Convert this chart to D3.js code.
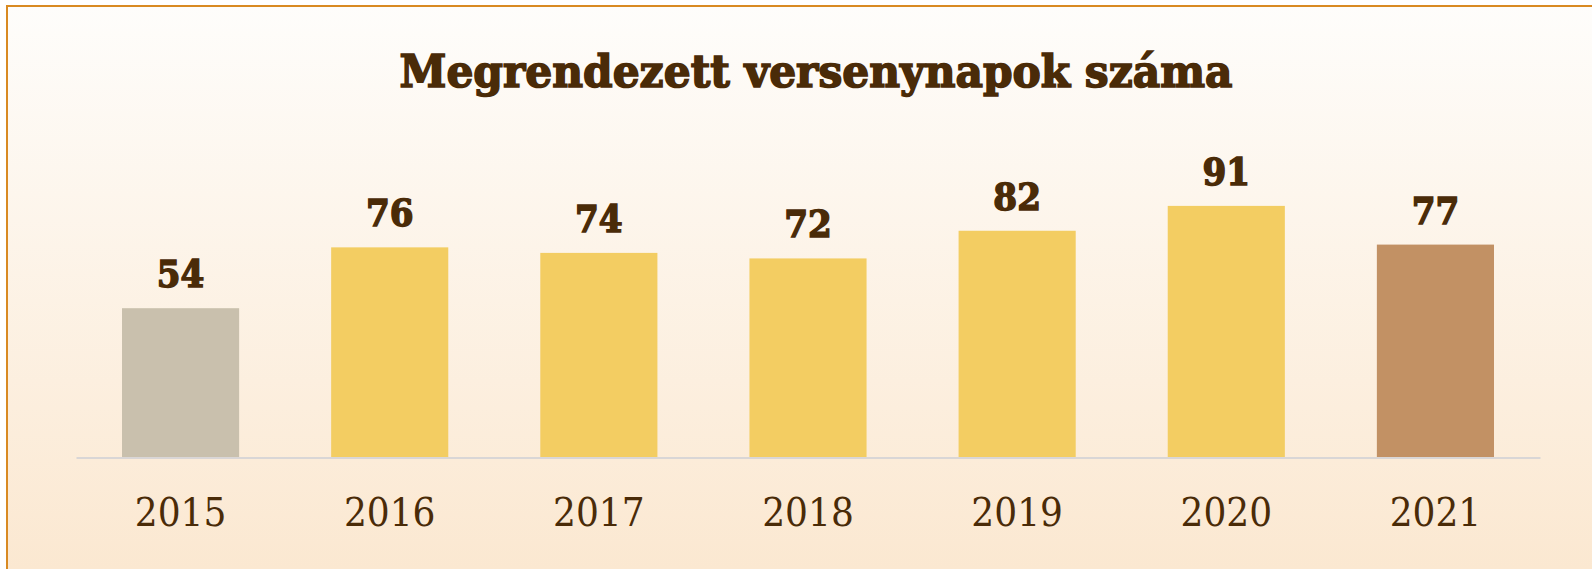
<!DOCTYPE html>
<html>
<head>
<meta charset="utf-8">
<script src="https://cdn.jsdelivr.net/npm/d3@7"></script>
<style>
  html, body { margin: 0; padding: 0; background: #ffffff; overflow: hidden; }
  svg { display: block; }
</style>
</head>
<body>
<script>
var years = ["2015", "2016", "2017", "2018", "2019", "2020", "2021"];
var days = [54, 76, 74, 72, 82, 91, 77];
var barColors = ["#c9c0ad", "#f3cd62", "#f3cd62", "#f3cd62", "#f3cd62", "#f3cd62", "#c29164"];
var title = "Megrendezett versenynapok száma";

var width = 1592, height = 569;
var margin = {top: 181, right: 52, bottom: 111.5, left: 76};

var svg = d3.select("body").append("svg")
	.attr("width", width)
	.attr("height", height);

var defs = svg.append("defs");
var bg = defs.append("linearGradient")
	.attr("id", "bg-gradient")
	.attr("x1", "0%").attr("y1", "0%")
	.attr("x2", "0%").attr("y2", "100%");
bg.append("stop").attr("offset", "0%").attr("stop-color", "#fefdfb");
bg.append("stop").attr("offset", "100%").attr("stop-color", "#fbe7cf");

// card, runs off the right and bottom edges
svg.append("rect")
	.attr("x", 7).attr("y", 6)
	.attr("width", width + 20).attr("height", height + 20)
	.attr("fill", "url(#bg-gradient)")
	.attr("stroke", "#d98a22")
	.attr("stroke-width", 2);

// heavy slab look: bold face plus a thin stroke of the same colour
svg.append("text")
	.attr("x", 816)
	.attr("y", 87)
	.attr("text-anchor", "middle")
	.attr("font-family", "DejaVu Serif")
	.attr("font-weight", "bold")
	.attr("font-size", 44)
	.attr("fill", "#4a2b08")
	.attr("stroke", "#4a2b08")
	.attr("stroke-width", 1.6)
	.attr("textLength", 833)
	.attr("lengthAdjust", "spacingAndGlyphs")
	.text(title);

var x = d3.scaleBand()
	.domain(years)
	.range([margin.left, width - margin.right])
	.paddingInner(0.44)
	.paddingOuter(0.22);

var y = d3.scaleLinear()
	.domain([0, 100])
	.range([height - margin.bottom, margin.top]);

svg.selectAll("rect.bar")
	.data(years)
	.enter().append("rect")
	.attr("class", "bar")
	.attr("x", function (d) { return x(d); })
	.attr("y", function (d, i) { return y(days[i]); })
	.attr("width", x.bandwidth())
	.attr("height", function (d, i) { return y(0) - y(days[i]); })
	.attr("fill", function (d, i) { return barColors[i]; });

svg.selectAll("text.value")
	.data(years)
	.enter().append("text")
	.attr("class", "value")
	.attr("x", function (d) { return x(d) + x.bandwidth() / 2; })
	.attr("y", function (d, i) { return y(days[i]) - 21; })
	.attr("text-anchor", "middle")
	.attr("font-family", "DejaVu Serif")
	.attr("font-stretch", "condensed")
	.attr("font-weight", "bold")
	.attr("font-size", 38)
	.attr("fill", "#4a2b08")
	.attr("stroke", "#4a2b08")
	.attr("stroke-width", 1.4)
	.text(function (d, i) { return days[i]; });

var axis = svg.append("g")
	.attr("transform", "translate(0," + y(0) + ")")
	.call(d3.axisBottom(x).tickSize(0).tickPadding(40));

axis.select(".domain")
	.attr("stroke", "#d9d6d6")
	.attr("stroke-width", 2);

axis.selectAll(".tick text")
	.attr("font-family", "DejaVu Serif")
	.attr("font-stretch", "condensed")
	.attr("font-size", 40)
	.attr("fill", "#4a2b08");
</script>
</body>
</html>
